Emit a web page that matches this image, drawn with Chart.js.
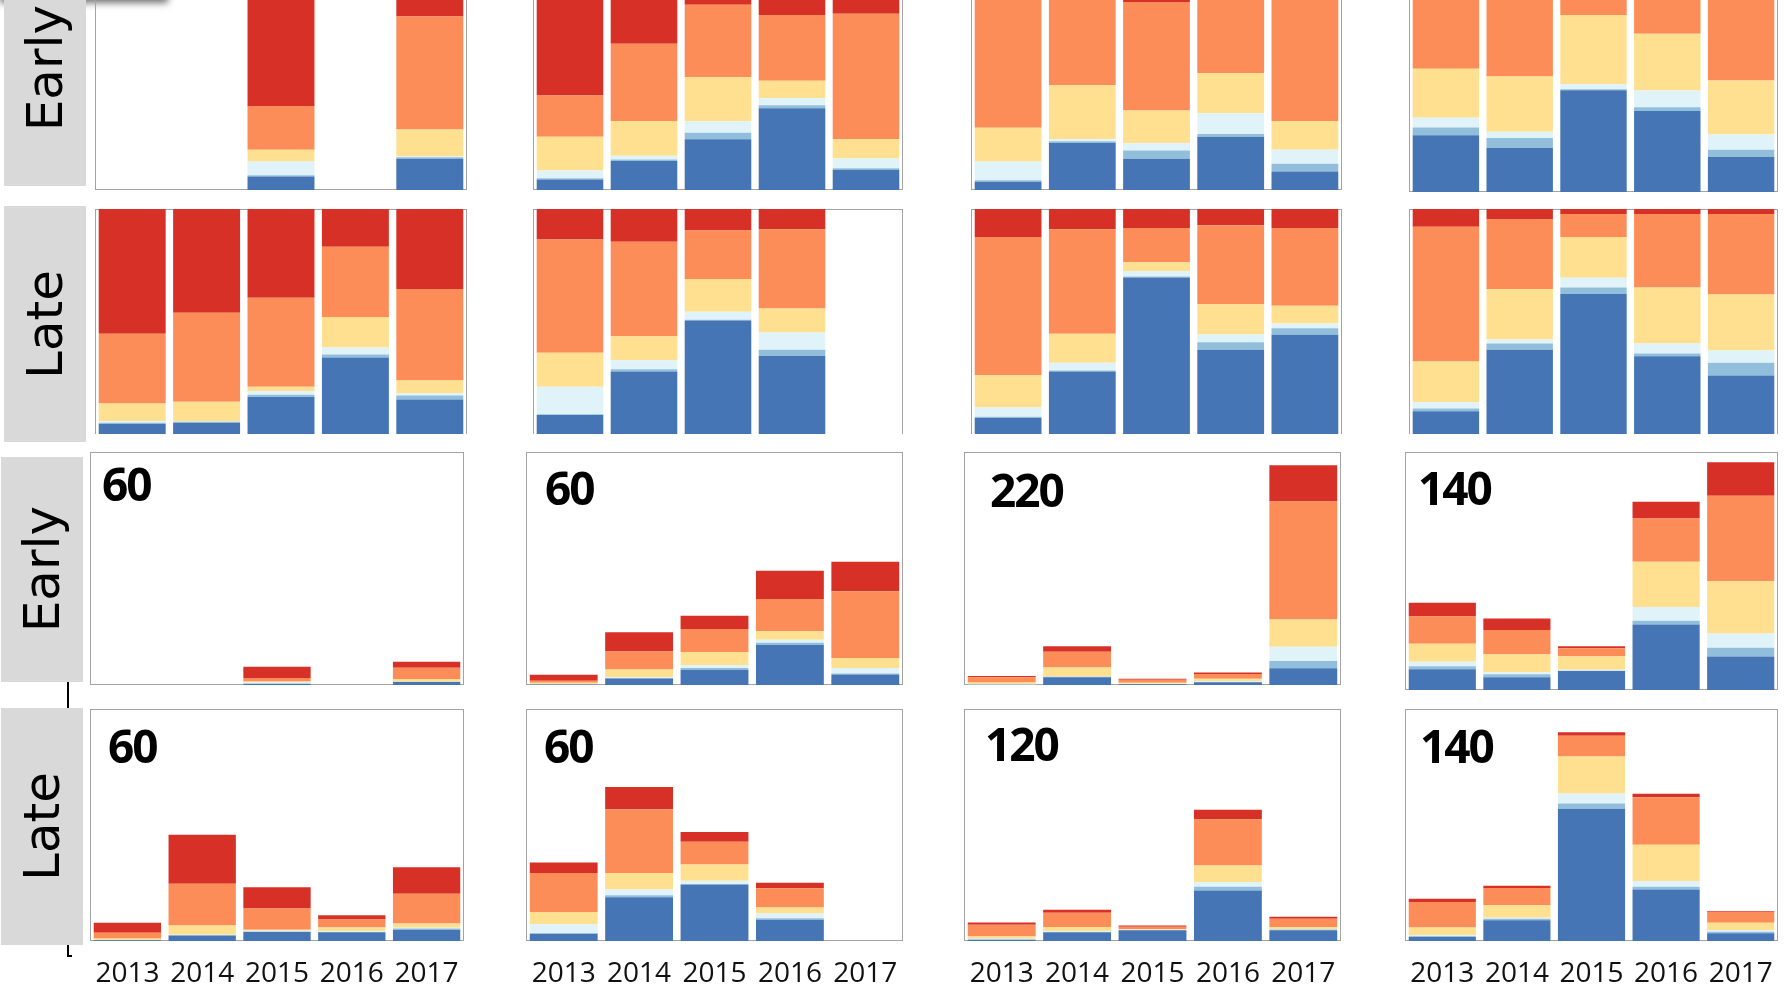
<!DOCTYPE html>
<html>
<head>
<meta charset="utf-8">
<script src="https://cdn.jsdelivr.net/npm/chart.js@4.4.1/dist/chart.umd.min.js"></script>
<style>
html, body { margin: 0; padding: 0; background: #fff; width: 1787px; height: 994px; overflow: hidden; position: relative; }
.frame { position: absolute; box-sizing: border-box; border: 1.5px solid #a3a3a3; }
.plot { position: absolute; }
.rowlab { position: absolute; background: #d9d9d9; display: flex; align-items: center; justify-content: center; }
.rowlab span { writing-mode: vertical-rl; transform: rotate(180deg); font: 50px 'DejaVu Sans'; color: #000; }
.maxlab { position: absolute; font: 700 46px 'Open Sans'; line-height: 46px; letter-spacing: -2px; color: #000; }
.mark { position: absolute; background: #000; }
.shade { position: absolute; left: 0; top: -12px; width: 168px; height: 12px; box-shadow: 0 3px 7px rgba(0,0,0,0.55); background: #888; }
</style>
</head>
<body>
<script>
var years = ['2013', '2014', '2015', '2016', '2017'];
var classNames = ['Class 1', 'Class 2', 'Class 3', 'Class 4', 'Class 5', 'Class 6'];
var classColors = ['#4575b4', '#91bfdb', '#e0f3f8', '#fee090', '#fc8d59', '#d73027'];
var rowNames = ['Early', 'Late', 'Early', 'Late'];

// share of each class (%), one row per class (bottom to top), one value per year
var shareEarly1 = [[0, 0, 5.8, 0, 13.5], [0, 0, 0.6, 0, 0.6], [0, 0, 5.9, 0, 0.3], [0, 0, 5.1, 0, 11.7], [0, 0, 18.8, 0, 48.7], [0, 0, 63.8, 0, 25.2]];
var shareEarly2 = [[4.5, 12.5, 21.9, 35.2, 8.7], [0.6, 0.7, 2.8, 1.3, 0.7], [3.3, 1.6, 4.9, 3.2, 4.2], [14.5, 14.9, 19.0, 7.4, 8.3], [17.8, 33.3, 31.3, 28.3, 54.1], [59.3, 37.0, 20.1, 24.6, 24.0]];
var shareEarly3 = [[3.6, 20.3, 13.5, 22.9, 8.0], [0.6, 0.7, 3.5, 1.2, 3.3], [8.1, 0.9, 3.2, 9.0, 6.1], [14.5, 23.3, 14.1, 17.2, 12.3], [59.2, 41.0, 46.7, 38.7, 53.8], [14.0, 13.8, 19.0, 11.0, 16.5]];
var shareEarly4 = [[24.1, 18.7, 43.3, 34.5, 14.9], [3.4, 4.3, 0.4, 1.6, 3.1], [4.1, 2.6, 2.1, 7.1, 6.5], [20.9, 23.5, 29.5, 24.1, 23.0], [31.7, 34.6, 19.9, 23.9, 37.8], [15.8, 16.3, 4.8, 8.8, 14.7]];

var shareLate1 = [[4.4, 5.0, 16.5, 34.0, 15.3], [0.6, 0.4, 1.0, 1.3, 1.8], [0.7, 0.3, 1.6, 3.2, 1.0], [7.9, 8.6, 1.9, 13.5, 5.7], [31.0, 39.6, 39.6, 31.2, 40.6], [55.4, 46.1, 39.4, 16.8, 35.6]];
var shareLate2 = [[8.5, 27.8, 50.4, 34.7, 0], [0.3, 1.0, 0.4, 2.8, 0], [12.2, 4.0, 3.5, 7.6, 0], [15.1, 10.7, 14.6, 10.7, 0], [50.4, 41.9, 21.5, 35.2, 0], [13.5, 14.6, 9.6, 9.0, 0]];
var shareLate3 = [[7.1, 27.8, 69.6, 37.4, 44.1], [0.6, 0.4, 0.4, 3.4, 2.9], [4.1, 3.5, 2.5, 3.4, 2.1], [14.3, 12.9, 3.8, 13.5, 7.9], [61.5, 46.4, 15.3, 35.1, 34.6], [12.4, 9.0, 8.4, 7.2, 8.4]];
var shareLate4 = [[10.1, 37.4, 62.2, 34.6, 26.0], [1.2, 2.8, 2.9, 1.2, 5.7], [2.8, 1.8, 4.4, 4.4, 5.4], [18.1, 22.5, 18.1, 24.9, 24.9], [59.9, 31.1, 10.2, 32.7, 35.8], [7.9, 4.4, 2.2, 2.2, 2.2]];

// counts
var countEarly1 = [[0, 0, 0.3, 0, 0.8], [0, 0, 0.03, 0, 0.04], [0, 0, 0.3, 0, 0.02], [0, 0, 0.25, 0, 0.7], [0, 0, 0.9, 0, 2.9], [0, 0, 2.9, 0, 1.5]];
var countEarly2 = [[0.12, 1.7, 3.9, 10.3, 2.7], [0.02, 0.1, 0.45, 0.55, 0.25], [0.09, 0.2, 0.8, 0.8, 1.4], [0.38, 2.0, 3.3, 2.2, 2.6], [0.47, 4.6, 6.0, 8.3, 17.2], [1.56, 5.0, 3.4, 7.3, 7.6]];
var countEarly3 = [[0.3, 7.4, 0.8, 2.7, 15.7], [0.05, 0.3, 0.2, 0.14, 7.0], [0.7, 0.3, 0.2, 1.05, 13.4], [1.2, 8.5, 0.85, 2.0, 25.8], [5.0, 15.0, 2.8, 4.5, 111.4], [1.2, 5.0, 1.15, 1.3, 34.1]];
var countEarly4 = [[12.2, 7.5, 11.2, 38.6, 19.7], [1.7, 1.8, 0.1, 2.1, 5.2], [2.7, 1.1, 0.6, 8.1, 8.3], [10.6, 10.6, 7.9, 26.6, 30.7], [16.0, 14.3, 4.8, 25.5, 50.4], [8.1, 6.8, 1.2, 9.8, 19.7]];

var countLate1 = [[0.21, 1.4, 2.3, 2.26, 2.9], [0.03, 0.1, 0.14, 0.09, 0.35], [0.03, 0.1, 0.22, 0.21, 0.2], [0.37, 2.4, 0.27, 0.9, 1.1], [1.47, 10.8, 5.5, 2.07, 7.7], [2.62, 12.7, 5.5, 1.12, 6.8]];
var countLate2 = [[1.9, 11.3, 14.6, 5.5, 0], [0.1, 0.5, 0.1, 0.4, 0], [2.3, 1.5, 0.9, 1.2, 0], [3.2, 4.3, 4.2, 1.55, 0], [10.1, 16.5, 5.9, 5.0, 0], [2.7, 5.7, 2.5, 1.4, 0]];
var countLate3 = [[0.7, 4.5, 5.6, 26.1, 5.55], [0.06, 0.06, 0.03, 2.0, 0.37], [0.4, 0.56, 0.2, 2.4, 0.26], [1.3, 2.1, 0.3, 8.6, 1.0], [5.9, 7.45, 1.2, 23.9, 4.36], [1.2, 1.45, 0.67, 4.9, 1.06]];
var countLate4 = [[2.6, 12.5, 79.8, 31.1, 4.65], [0.3, 0.94, 3.2, 1.7, 1.0], [0.7, 0.6, 6.0, 3.4, 0.97], [4.6, 7.5, 22.3, 21.9, 4.46], [15.3, 10.4, 12.6, 28.7, 6.4], [2.0, 1.47, 2.1, 2.1, 0.4]];

var countMaxEarly = [60, 60, 220, 140];
var countMaxLate = [60, 60, 120, 140];

// which panel goes where
var panels = [
  [shareEarly1, shareEarly2, shareEarly3, shareEarly4],
  [shareLate1, shareLate2, shareLate3, shareLate4],
  [countEarly1, countEarly2, countEarly3, countEarly4],
  [countLate1, countLate2, countLate3, countLate4]
];
var panelMax = [[100, 100, 100, 100], [100, 100, 100, 100], countMaxEarly, countMaxLate];

// layout (pixels)
var colsTop = [[95, 467], [533, 903], [971, 1342], [1409, 1778]];
var colsBottom = [[90, 464], [526, 903], [964, 1341], [1405, 1778]];
var rowSpan = [[-42, 190], [209, 434], [452, 685], [709, 941]];
var labBoxes = [[4, -50, 82, 236], [4, 206, 82, 236], [1, 457, 82, 225], [1, 708, 82, 237]];
var numLeft = [[102, 545, 990, 1418], [108, 544, 985, 1420]];
var numMid = [[484, 488, 490, 488], [746, 746, 744, 746]];

function addDiv(cls, x, y, w, h) {
  var d = document.createElement('div');
  d.className = cls;
  d.style.left = x + 'px';
  d.style.top = y + 'px';
  if (w != null) d.style.width = w + 'px';
  if (h != null) d.style.height = h + 'px';
  document.body.appendChild(d);
  return d;
}

function drawPanel(x0, x1, y0, y1, rows, yMax, showYears, openBottom) {
  var frame = addDiv('frame', x0, y0, x1 - x0, y1 - y0);
  if (openBottom) frame.style.borderBottom = 'none';
  var extra = showYears ? 60 : 0;
  var holder = addDiv('plot', x0, y0, x1 - x0, y1 - y0 + extra);
  var cv = document.createElement('canvas');
  holder.appendChild(cv);

  new Chart(cv, {
    type: 'bar',
    data: {
      labels: years,
      datasets: rows.map(function (vals, i) {
        return {
          label: classNames[i],
          data: vals,
          backgroundColor: classColors[i],
          borderWidth: 0,
          barPercentage: 0.9,
          categoryPercentage: 1
        };
      })
    },
    options: {
      responsive: true,
      maintainAspectRatio: false,
      animation: false,
      layout: { padding: 0 },
      plugins: { legend: { display: false }, tooltip: { enabled: false } },
      scales: {
        x: {
          stacked: true,
          display: showYears,
          grid: { display: false, drawTicks: false },
          border: { display: false },
          ticks: { font: { family: 'Open Sans', size: 28 }, color: '#111', padding: 16, maxRotation: 0, autoSkip: false },
          afterFit: function (axis) {
            axis.height = extra;
            axis.paddingLeft = 0;
            axis.paddingRight = 0;
          }
        },
        y: { stacked: true, display: false, min: 0, max: yMax }
      }
    }
  });
}

// shadow strip at the top left
addDiv('shade', 0, -12);

// row labels
labBoxes.forEach(function (b, r) {
  var d = addDiv('rowlab', b[0], b[1], b[2], b[3]);
  var s = document.createElement('span');
  s.textContent = rowNames[r];
  d.appendChild(s);
});

// small axis marks on the left
addDiv('mark', 67, 682, 2, 26);
addDiv('mark', 67, 945, 2, 12);
addDiv('mark', 67, 955, 5, 2);

for (var r = 0; r < 4; r++) {
  for (var c = 0; c < 4; c++) {
    var xs = r < 2 ? colsTop[c] : colsBottom[c];
    var y0 = rowSpan[r][0], y1 = rowSpan[r][1];
    if (c == 3 && r == 0) { y0 = -43; y1 = 192; }
    if (c == 3 && r == 2) { y1 = 690; }
    drawPanel(xs[0], xs[1], y0, y1, panels[r][c], panelMax[r][c], r == 3, r == 1);
    if (r >= 2) {
      var n = addDiv('maxlab', numLeft[r - 2][c], numMid[r - 2][c] - 24);
      n.textContent = panelMax[r][c];
    }
  }
}
</script>
</body>
</html>
